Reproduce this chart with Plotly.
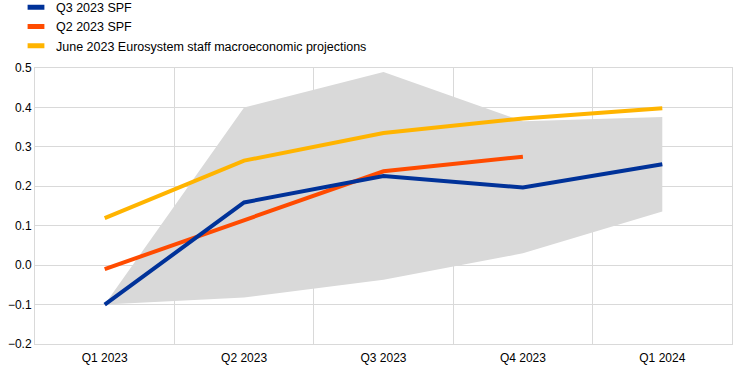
import plotly.graph_objects as go

quarters = ["Q1 2023", "Q2 2023", "Q3 2023", "Q4 2023", "Q1 2024"]
q3_spf = [-0.10, 0.159, 0.226, 0.197, 0.256]
q2_quarters = ["Q1 2023", "Q2 2023", "Q3 2023", "Q4 2023"]
q2_spf = [-0.01, 0.115, 0.238, 0.275]
june_proj = [0.119, 0.265, 0.335, 0.372, 0.398]
band_upper = [-0.10, 0.40, 0.49, 0.365, 0.376]
band_lower = [-0.10, -0.082, -0.037, 0.030, 0.136]

names = ["Q3 2023 SPF", "Q2 2023 SPF", "June 2023 Eurosystem staff macroeconomic projections"]
colors = ["#003299", "#FF4B00", "#FFB400"]

fig = go.Figure()
fig.add_trace(go.Scatter(
    x=quarters + quarters[::-1], y=band_upper + band_lower[::-1],
    fill="toself", fillcolor="#D9D9D9", line=dict(width=0),
    mode="lines", showlegend=False, hoverinfo="skip"))
fig.add_trace(go.Scatter(x=quarters, y=june_proj, mode="lines",
                         line=dict(color=colors[2], width=4), showlegend=False))
fig.add_trace(go.Scatter(x=q2_quarters, y=q2_spf, mode="lines",
                         line=dict(color=colors[1], width=4), showlegend=False))
fig.add_trace(go.Scatter(x=quarters, y=q3_spf, mode="lines",
                         line=dict(color=colors[0], width=4), showlegend=False))
for n, c in zip(names, colors):
    fig.add_trace(go.Scatter(x=[None], y=[None], mode="markers", name=n,
                             marker=dict(symbol="line-ew", size=12,
                                         line=dict(color=c, width=5))))

font = dict(family="Liberation Sans, Arial, sans-serif", size=12, color="#000000")
lfont = dict(family="Liberation Sans, Arial, sans-serif", size=12.5, color="#000000")
fig.update_layout(
    width=744, height=374,
    margin=dict(l=35, r=12, t=68, b=30, autoexpand=False),
    paper_bgcolor="white", plot_bgcolor="white",
    font=font,
    showlegend=True,
    legend=dict(xref="container", yref="paper", x=16/744, y=1.273,
                xanchor="left", yanchor="top", bgcolor="rgba(0,0,0,0)",
                font=lfont, itemwidth=30, tracegroupgap=0),
    xaxis=dict(type="category", categoryorder="array", categoryarray=quarters,
               range=[-0.5, 4.5], tickson="boundaries", showgrid=True,
               gridcolor="#D9D9D9", gridwidth=1, showline=True,
               linecolor="#D9D9D9", mirror=True, ticks="", tickfont=font,
               ticklabelstandoff=3, fixedrange=True),
    yaxis=dict(range=[-0.2, 0.5], dtick=0.1, tickformat=".1f",
               showgrid=True, gridcolor="#D9D9D9", gridwidth=1,
               showline=True, linecolor="#D9D9D9", mirror=True,
               zeroline=False, ticks="", tickfont=font, fixedrange=True),
)
fig.write_html("out.html", config={"displayModeBar": False},
               post_script="document.body.style.margin='0';")
